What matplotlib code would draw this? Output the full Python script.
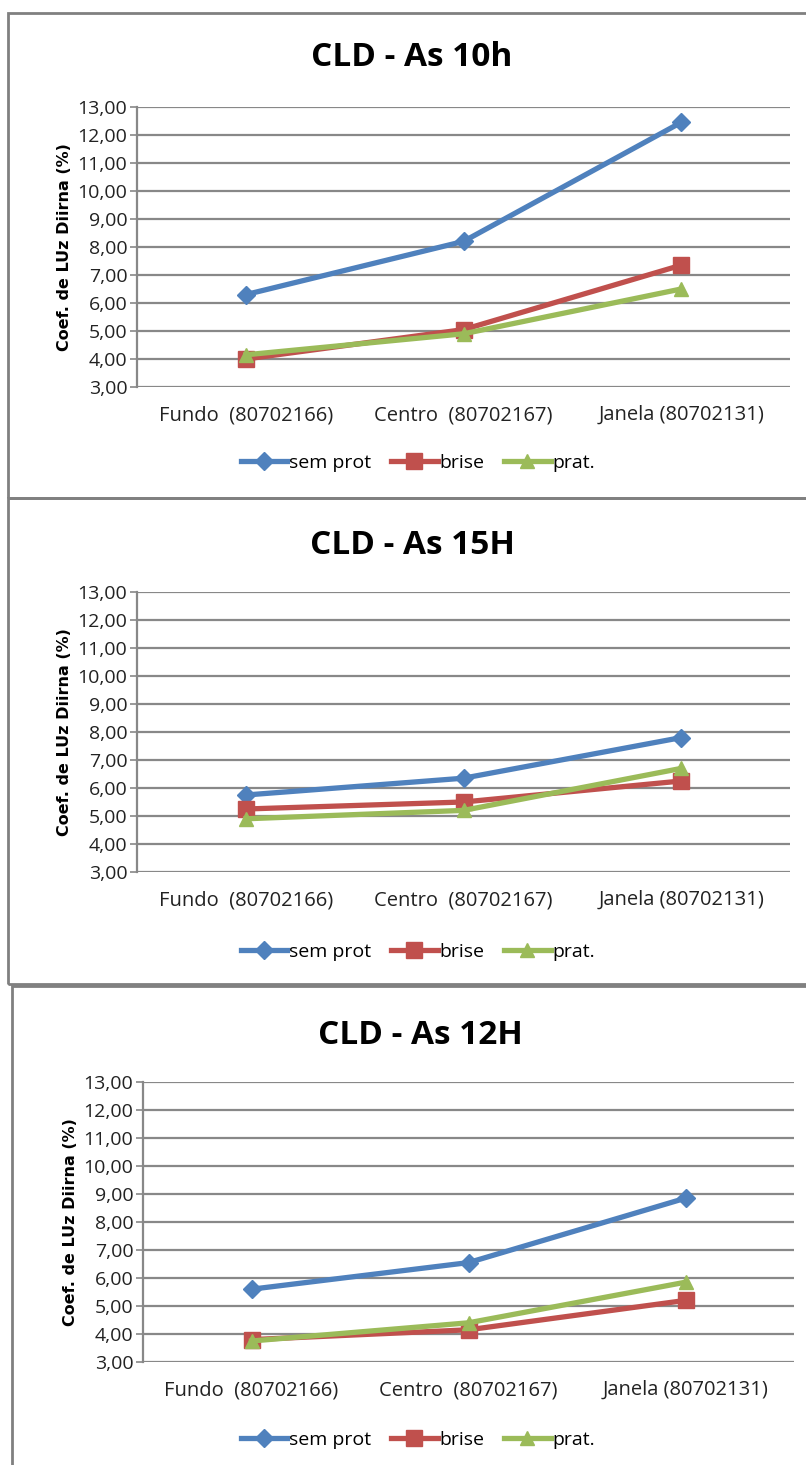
import matplotlib
matplotlib.use('Agg')
import matplotlib.pyplot as plt
from matplotlib.patches import Rectangle
from matplotlib.lines import Line2D

plt.rcParams['font.family'] = ['Open Sans', 'DejaVu Sans']

W, H = 806, 1465

categories = ['Fundo  (80702166)', 'Centro  (80702167)', 'Janela (80702131)']
series_names = ['sem prot', 'brise', 'prat.']
titles = ['CLD - As 10h', 'CLD - As 15H', 'CLD - As 12H']

sem_prot_10h = [6.30, 8.20, 12.45]
brise_10h = [4.00, 5.05, 7.35]
prat_10h = [4.15, 4.90, 6.50]

sem_prot_15h = [5.75, 6.35, 7.80]
brise_15h = [5.25, 5.50, 6.25]
prat_15h = [4.90, 5.20, 6.70]

sem_prot_12h = [5.60, 6.55, 8.85]
brise_12h = [3.80, 4.15, 5.20]
prat_12h = [3.75, 4.40, 5.85]

y_ticks = list(range(3, 14))
y_ticklabels = ['%d,00' % v for v in y_ticks]

colors = ['#4F81BD', '#C0504D', '#9BBB59']
markers = ['D', 's', '^']
msizes = [9, 11, 10]

# panel boxes in pixels: left, top, right, bottom ; plot area: left, top(13), right, bottom(3)
panels = [
    dict(box=(8, 13, 830, 498), plot=(137, 107, 790, 387), title_x=412, title_y=58,
         legend_y=463, data=[sem_prot_10h, brise_10h, prat_10h], title=titles[0]),
    dict(box=(8, 498, 830, 984), plot=(137, 592, 790, 872), title_x=412, title_y=546,
         legend_y=952, data=[sem_prot_15h, brise_15h, prat_15h], title=titles[1]),
    dict(box=(12, 986, 830, 1500), plot=(143, 1082, 794, 1362), title_x=420, title_y=1035,
         legend_y=1440, data=[sem_prot_12h, brise_12h, prat_12h], title=titles[2]),
]

fig = plt.figure(figsize=(W / 100, H / 100), dpi=100)


def fx(px):
    return px / W


def fy(py):
    return 1 - py / H


for p in panels:
    l, t, r, b = p['box']
    fig.add_artist(Rectangle((fx(l), fy(b)), fx(r - l), (b - t) / H,
                             transform=fig.transFigure, fill=False,
                             edgecolor='#808080', linewidth=2, zorder=0))
    pl, pt, pr, pb = p['plot']
    ax = fig.add_axes([fx(pl), fy(pb), fx(pr - pl), (pb - pt) / H])
    ax.set_xlim(-0.5, 2.5)
    ax.set_ylim(3, 13)
    ax.set_yticks(y_ticks)
    ax.set_yticklabels(y_ticklabels, fontsize=14, color='#222222')
    ax.set_xticks(range(3))
    ax.set_xticklabels(categories, fontsize=14.5, color='#222222')
    ax.tick_params(axis='x', length=0, pad=13)
    ax.tick_params(axis='y', length=5, width=1.2, color='#888888', pad=2)
    ax.grid(axis='y', color='#888888', linewidth=1.6)
    ax.set_axisbelow(True)
    for s in ['top', 'right', 'bottom']:
        ax.spines[s].set_visible(False)
    ax.spines['left'].set_color('#888888')
    ax.spines['left'].set_linewidth(1.6)
    ax.set_ylabel('Coef. de LUz Diirna (%)', fontsize=11.5, fontweight='bold',
                  family=['DejaVu Sans'], labelpad=4)
    for vals, name, c, m, ms in zip(p['data'], series_names, colors, markers, msizes):
        ax.plot(range(3), vals, color=c, marker=m, markersize=ms, linewidth=3.8,
                label=name, zorder=3)
    fig.text(fx(p['title_x']), fy(p['title_y']), p['title'], ha='center', va='center',
             fontsize=24, fontweight='bold')
    handles = [Line2D([], [], color=c, marker=m, markersize=ms, linewidth=3.8)
               for c, m, ms in zip(colors, markers, msizes)]
    fig.legend(handles, series_names, loc='center', bbox_to_anchor=(fx(418), fy(p['legend_y'])),
               ncol=3, frameon=False, fontsize=14, handlelength=2.4, handletextpad=0.1,
               columnspacing=1.0)

fig.savefig('out.png', dpi=100)
